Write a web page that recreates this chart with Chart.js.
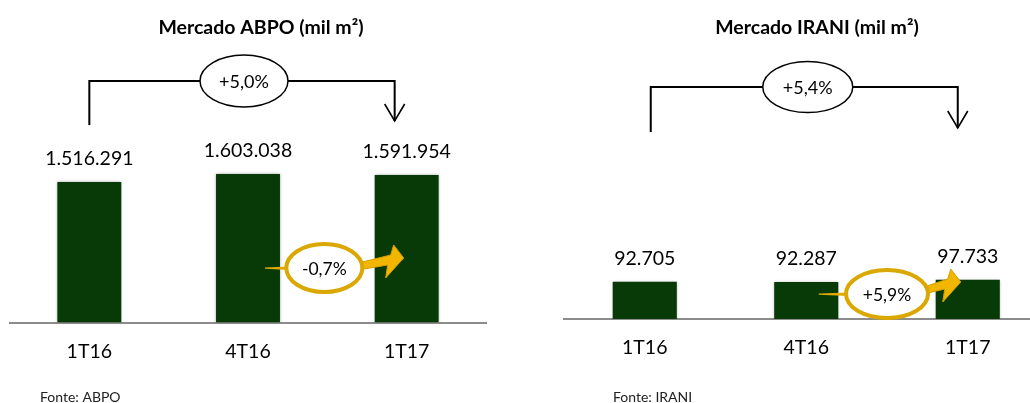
<!DOCTYPE html>
<html><head><meta charset="utf-8">
<script src="https://cdn.jsdelivr.net/npm/chart.js@4.4.0/dist/chart.umd.min.js"></script>
<style>
html,body{margin:0;padding:0;background:#fff;overflow:hidden;width:1030px;height:403px;}
#c1{position:absolute;left:0;top:0;}
#c2{position:absolute;left:515px;top:0;}
</style></head><body>
<canvas id="c1" width="515" height="403"></canvas>
<canvas id="c2" width="545" height="403"></canvas>
<script>
// ---- data ----
const categories = ['1T16', '4T16', '1T17'];
const abpoValues = [1516291, 1603038, 1591954];
const iraniValues = [92705, 92287, 97733];
const abpoTitle = 'Mercado ABPO (mil m²)';
const iraniTitle = 'Mercado IRANI (mil m²)';
const abpoSource = 'Fonte: ABPO';
const iraniSource = 'Fonte: IRANI';
const abpoYearChange = '+5,0%';
const abpoQuarterChange = '-0,7%';
const iraniYearChange = '+5,4%';
const iraniQuarterChange = '+5,9%';

const FONT = 'Lato, "Open Sans", sans-serif';
function fmt(v){ return String(v).replace(/\B(?=(\d{3})+(?!\d))/g, '.'); }

const shadowPlugin = {
  id: 'barShadow',
  beforeDatasetsDraw(chart){ const c=chart.ctx; c.save(); c.shadowColor='rgba(0,0,0,0.35)'; c.shadowBlur=3; c.shadowOffsetX=0; c.shadowOffsetY=0; },
  afterDatasetsDraw(chart){ chart.ctx.restore(); }
};

function makeDeco(s){
  return {
    id: 'deco',
    afterDraw(chart){
      const ctx = chart.ctx, xs = chart.scales.x;
      const meta = chart.getDatasetMeta(0);
      const vals = chart.data.datasets[0].data;
      ctx.save();
      ctx.fillStyle = '#000';
      ctx.textAlign = 'center';
      ctx.textBaseline = 'middle';
      // title
      ctx.font = 'bold 19.5px ' + FONT;
      ctx.fillText(s.title, s.titleX, s.titleY);
      // value labels
      ctx.font = '19.5px ' + FONT;
      meta.data.forEach((bar, i) => ctx.fillText(fmt(vals[i]), bar.x, bar.y - s.labelGap));
      // source
      ctx.font = '14px ' + FONT;
      ctx.textAlign = 'left';
      ctx.fillStyle = '#222';
      ctx.fillText(s.source, s.sourceX, s.sourceY);
      // bracket
      const b = s.bracket;
      const xl = xs.getPixelForValue(0) + b.leftOff;
      const xr = xs.getPixelForValue(2) + b.rightOff;
      ctx.strokeStyle = '#000'; ctx.lineWidth = 2;
      ctx.beginPath(); ctx.moveTo(xl, b.leftBottom); ctx.lineTo(xl, b.y); ctx.lineTo(xr, b.y); ctx.lineTo(xr, b.rightTip); ctx.stroke();
      ctx.lineWidth = 1.6;
      ctx.beginPath(); ctx.moveTo(xr - 10, b.rightTip - 17); ctx.lineTo(xr, b.rightTip); ctx.lineTo(xr + 10, b.rightTip - 17); ctx.stroke();
      const ex = (xl + xr) / 2 + b.dx;
      ctx.beginPath(); ctx.ellipse(ex, b.y, b.rx, b.ry, 0, 0, Math.PI * 2);
      ctx.fillStyle = '#fff'; ctx.fill(); ctx.lineWidth = 1.5; ctx.stroke();
      ctx.fillStyle = '#000'; ctx.font = '18px ' + FONT; ctx.textAlign = 'center';
      ctx.fillText(b.label, ex, b.y + 1);
      // gold annotation
      const g = s.gold;
      const x1 = xs.getPixelForValue(1), x2 = xs.getPixelForValue(2);
      const gx = (x1 + x2) / 2 + g.dx, gy = g.y;
      const sx = x1 + g.startOff;
      ctx.fillStyle = '#E0AA00';
      ctx.beginPath();
      ctx.moveTo(sx, gy - 0.6); ctx.lineTo(gx - g.rx + 2, gy - 1.5); ctx.lineTo(gx - g.rx + 2, gy + 2); ctx.lineTo(sx, gy + 0.8);
      ctx.closePath(); ctx.fill();
      const tx = x2 + g.tipOff, ty = g.tipY;
      const ax = gx + g.rx - 4;
      ctx.fillStyle = '#F2B600';
      ctx.beginPath();
      ctx.moveTo(ax, ty + 5);
      ctx.lineTo(tx - 13, ty - 3);
      ctx.lineTo(tx - 10, ty - 13);
      ctx.lineTo(tx, ty);
      ctx.lineTo(tx - 18, ty + 20);
      ctx.lineTo(tx - 16, ty + 7);
      ctx.lineTo(ax, ty + 12);
      ctx.closePath(); ctx.fill();
      ctx.strokeStyle = '#D49F00'; ctx.lineWidth = 1; ctx.stroke();
      ctx.beginPath(); ctx.ellipse(gx, gy, g.rx, g.ry, 0, 0, Math.PI * 2);
      ctx.fillStyle = '#fff'; ctx.fill();
      ctx.strokeStyle = '#DAA800'; ctx.lineWidth = 4; ctx.stroke();
      ctx.fillStyle = '#000'; ctx.font = '17.5px ' + FONT;
      ctx.fillText(g.label, gx, gy + 1);
      ctx.restore();
    }
  };
}

function makeChart(id, values, yMax, pad, catPct, deco){
  return new Chart(document.getElementById(id), {
    type: 'bar',
    data: { labels: categories, datasets: [{ data: values, backgroundColor: '#073A07', borderWidth: 0, barPercentage: 1, categoryPercentage: catPct }] },
    options: {
      responsive: false, animation: false, devicePixelRatio: 1,
      layout: { padding: pad },
      plugins: { legend: { display: false }, tooltip: { enabled: false }, title: { display: false } },
      scales: {
        x: { grid: { display: false, drawTicks: false }, border: { display: true, color: '#8c8c8c', width: 2 },
             ticks: { color: '#000', font: { family: FONT, size: 19.5 }, padding: 17, maxRotation: 0, autoSkip: false } },
        y: { display: false, min: 0, max: yMax }
      }
    },
    plugins: [shadowPlugin, deco]
  });
}

function build(){
  makeChart('c1', abpoValues, 2000000, { left: 10, right: 29, top: 137.3, bottom: 23 }, 0.403, makeDeco({
    title: abpoTitle, titleX: 261, titleY: 28, labelGap: 23,
    source: abpoSource, sourceX: 40, sourceY: 397,
    bracket: { y: 81, leftOff: 0, rightOff: -12, leftBottom: 125, rightTip: 121, dx: 2, rx: 44, ry: 26, label: abpoYearChange },
    gold: { y: 268, startOff: 17, dx: -3, rx: 38, ry: 24, tipOff: -3, tipY: 258, label: abpoQuarterChange }
  }));
  makeChart('c2', iraniValues, 300000, { left: 49, right: 11.5, top: 198.3, bottom: 26.5 }, 0.397, makeDeco({
    title: iraniTitle, titleX: 302, titleY: 28, labelGap: 23.5,
    source: iraniSource, sourceX: 98, sourceY: 397,
    bracket: { y: 87, leftOff: 6, rightOff: -10, leftBottom: 132, rightTip: 128, dx: 3.5, rx: 45, ry: 25.5, label: iraniYearChange },
    gold: { y: 294, startOff: 12.5, dx: 0, rx: 41, ry: 24, tipOff: -7, tipY: 282, label: iraniQuarterChange }
  }));
}
if (document.fonts && document.fonts.load) {
  Promise.all([document.fonts.load('19px Lato'), document.fonts.load('bold 18px Lato')]).then(build, build);
} else build();
</script>
</body></html>
